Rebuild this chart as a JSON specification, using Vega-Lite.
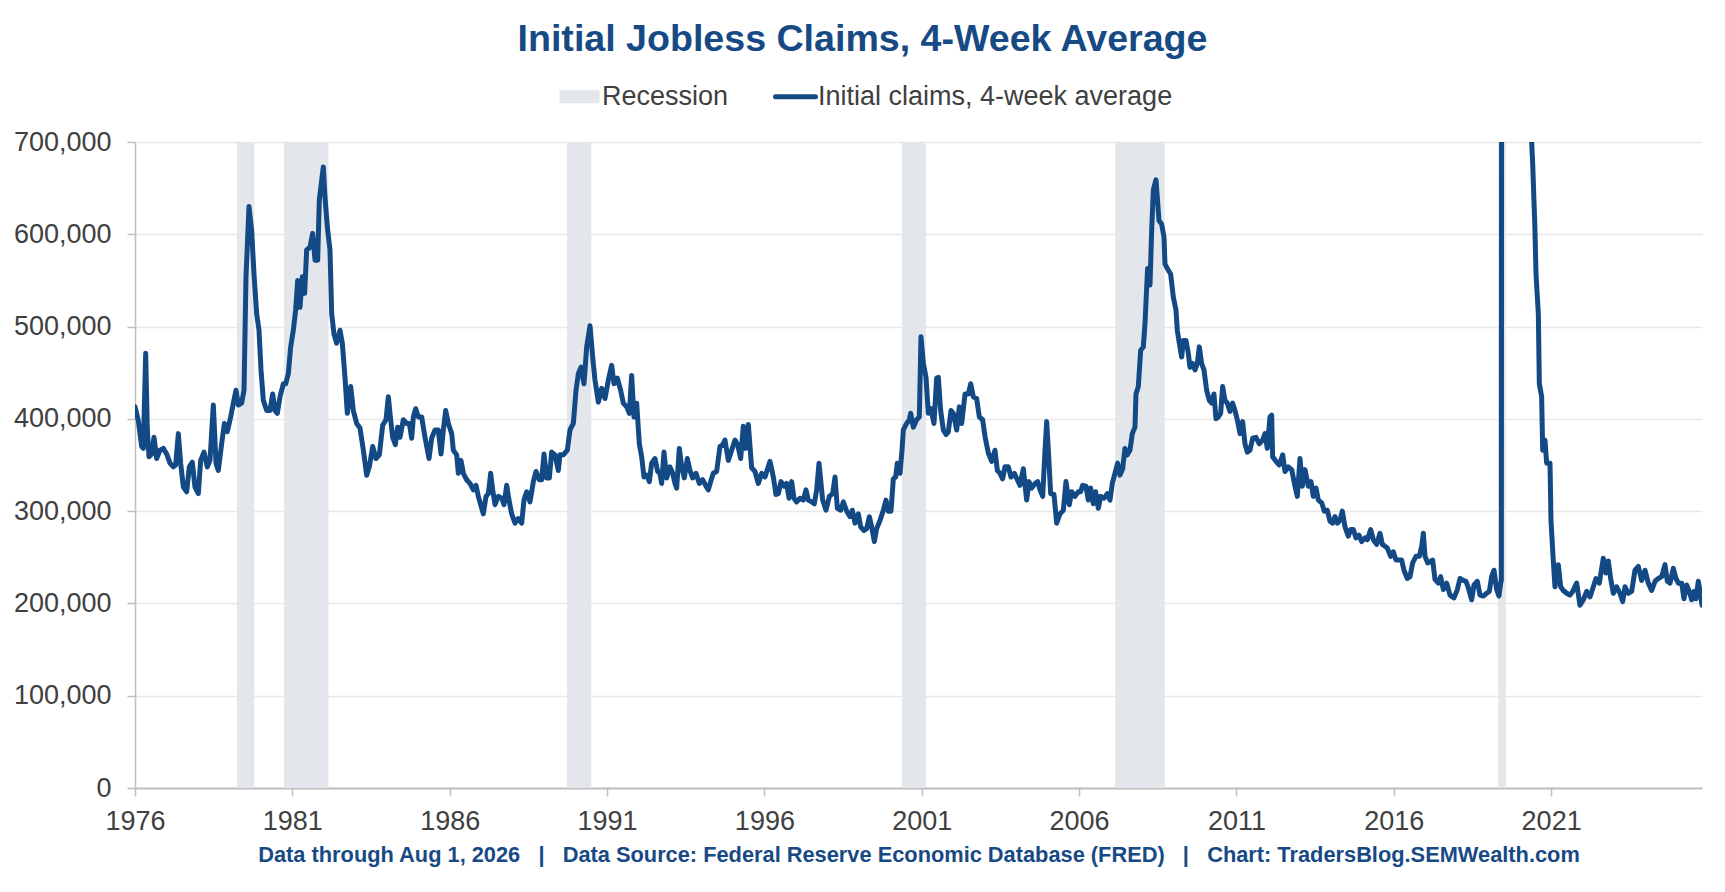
{
  "$schema": "https://vega.github.io/schema/vega-lite/v6.json",
  "width": 1567,
  "height": 646,
  "autosize": {"type": "none"},
  "padding": {"left": 135, "top": 142, "right": 23, "bottom": 104},
  "background": "white",
  "config": {
    "font": "Liberation Sans",
    "view": {"stroke": null},
    "axis": {"labelFont": "Liberation Sans", "titleFont": "Liberation Sans"},
    "legend": {"labelFont": "Liberation Sans"}
  },
  "title": {
    "text": "Initial Jobless Claims, 4-Week Average",
    "anchor": "middle",
    "frame": "group",
    "dx": -56,
    "offset": 24,
    "fontSize": 37.6,
    "fontWeight": "bold",
    "font": "Liberation Sans",
    "color": "#174A85"
  },
  "datasets": {
    "recessions": [
      {"s": 1979.99, "e": 1980.54},
      {"s": 1981.49, "e": 1982.9},
      {"s": 1990.48, "e": 1991.25},
      {"s": 2001.12, "e": 2001.88},
      {"s": 2007.9, "e": 2009.47},
      {"s": 2020.07, "e": 2020.31}
    ],
    "claims": [
      {"t": 1976.75, "v": 413000}, {"t": 1976.856, "v": 398000}, {"t": 1976.962, "v": 370000}, {"t": 1977.015, "v": 368000},
      {"t": 1977.089, "v": 471000}, {"t": 1977.142, "v": 388000}, {"t": 1977.195, "v": 359000}, {"t": 1977.28, "v": 362000},
      {"t": 1977.354, "v": 380000}, {"t": 1977.438, "v": 357000}, {"t": 1977.544, "v": 366000}, {"t": 1977.65, "v": 368000},
      {"t": 1977.756, "v": 362000}, {"t": 1977.862, "v": 352000}, {"t": 1977.968, "v": 348000}, {"t": 1978.042, "v": 350000},
      {"t": 1978.127, "v": 384000}, {"t": 1978.201, "v": 352000}, {"t": 1978.286, "v": 326000}, {"t": 1978.392, "v": 321000},
      {"t": 1978.476, "v": 348000}, {"t": 1978.572, "v": 353000}, {"t": 1978.656, "v": 326000}, {"t": 1978.762, "v": 319000},
      {"t": 1978.837, "v": 355000}, {"t": 1978.943, "v": 364000}, {"t": 1979.048, "v": 348000}, {"t": 1979.133, "v": 355000},
      {"t": 1979.239, "v": 415000}, {"t": 1979.324, "v": 352000}, {"t": 1979.398, "v": 344000}, {"t": 1979.504, "v": 373000},
      {"t": 1979.589, "v": 395000}, {"t": 1979.684, "v": 386000}, {"t": 1979.79, "v": 402000}, {"t": 1979.875, "v": 417000},
      {"t": 1979.959, "v": 431000}, {"t": 1980.033, "v": 415000}, {"t": 1980.139, "v": 417000}, {"t": 1980.214, "v": 431000},
      {"t": 1980.277, "v": 554000}, {"t": 1980.372, "v": 630000}, {"t": 1980.457, "v": 604000}, {"t": 1980.531, "v": 557000},
      {"t": 1980.616, "v": 514000}, {"t": 1980.69, "v": 496000}, {"t": 1980.754, "v": 453000}, {"t": 1980.828, "v": 420000},
      {"t": 1980.934, "v": 409000}, {"t": 1981.04, "v": 409000}, {"t": 1981.125, "v": 427000}, {"t": 1981.199, "v": 409000},
      {"t": 1981.273, "v": 406000}, {"t": 1981.358, "v": 424000}, {"t": 1981.464, "v": 438000}, {"t": 1981.538, "v": 438000},
      {"t": 1981.622, "v": 449000}, {"t": 1981.697, "v": 478000}, {"t": 1981.781, "v": 496000}, {"t": 1981.855, "v": 518000},
      {"t": 1981.919, "v": 550000}, {"t": 1981.993, "v": 521000}, {"t": 1982.067, "v": 554000}, {"t": 1982.141, "v": 536000},
      {"t": 1982.205, "v": 583000}, {"t": 1982.311, "v": 586000}, {"t": 1982.395, "v": 601000}, {"t": 1982.47, "v": 572000},
      {"t": 1982.554, "v": 572000}, {"t": 1982.607, "v": 637000}, {"t": 1982.681, "v": 658000}, {"t": 1982.734, "v": 673000},
      {"t": 1982.788, "v": 640000}, {"t": 1982.862, "v": 608000}, {"t": 1982.946, "v": 583000}, {"t": 1983.0, "v": 514000},
      {"t": 1983.073, "v": 492000}, {"t": 1983.158, "v": 482000}, {"t": 1983.264, "v": 496000}, {"t": 1983.338, "v": 482000},
      {"t": 1983.423, "v": 445000}, {"t": 1983.497, "v": 406000}, {"t": 1983.603, "v": 435000}, {"t": 1983.688, "v": 409000},
      {"t": 1983.794, "v": 395000}, {"t": 1983.9, "v": 390000}, {"t": 1984.006, "v": 366000}, {"t": 1984.112, "v": 339000},
      {"t": 1984.197, "v": 348000}, {"t": 1984.302, "v": 370000}, {"t": 1984.408, "v": 357000}, {"t": 1984.514, "v": 361000},
      {"t": 1984.62, "v": 393000}, {"t": 1984.726, "v": 399000}, {"t": 1984.8, "v": 424000}, {"t": 1984.874, "v": 399000},
      {"t": 1984.938, "v": 380000}, {"t": 1985.023, "v": 372000}, {"t": 1985.097, "v": 391000}, {"t": 1985.171, "v": 380000},
      {"t": 1985.277, "v": 399000}, {"t": 1985.383, "v": 395000}, {"t": 1985.468, "v": 395000}, {"t": 1985.542, "v": 379000},
      {"t": 1985.595, "v": 402000}, {"t": 1985.669, "v": 411000}, {"t": 1985.754, "v": 402000}, {"t": 1985.86, "v": 402000},
      {"t": 1985.965, "v": 380000}, {"t": 1986.093, "v": 357000}, {"t": 1986.177, "v": 379000}, {"t": 1986.283, "v": 388000},
      {"t": 1986.389, "v": 388000}, {"t": 1986.474, "v": 362000}, {"t": 1986.548, "v": 388000}, {"t": 1986.622, "v": 409000},
      {"t": 1986.707, "v": 395000}, {"t": 1986.813, "v": 384000}, {"t": 1986.866, "v": 366000}, {"t": 1986.972, "v": 361000},
      {"t": 1987.025, "v": 341000}, {"t": 1987.109, "v": 355000}, {"t": 1987.184, "v": 341000}, {"t": 1987.289, "v": 334000},
      {"t": 1987.395, "v": 330000}, {"t": 1987.501, "v": 323000}, {"t": 1987.586, "v": 328000}, {"t": 1987.66, "v": 316000},
      {"t": 1987.734, "v": 307000}, {"t": 1987.819, "v": 297000}, {"t": 1987.904, "v": 316000}, {"t": 1987.978, "v": 319000},
      {"t": 1988.052, "v": 341000}, {"t": 1988.116, "v": 323000}, {"t": 1988.19, "v": 307000}, {"t": 1988.296, "v": 316000},
      {"t": 1988.402, "v": 314000}, {"t": 1988.476, "v": 307000}, {"t": 1988.561, "v": 328000}, {"t": 1988.635, "v": 312000},
      {"t": 1988.719, "v": 297000}, {"t": 1988.825, "v": 287000}, {"t": 1988.931, "v": 292000}, {"t": 1989.037, "v": 287000},
      {"t": 1989.111, "v": 312000}, {"t": 1989.196, "v": 321000}, {"t": 1989.302, "v": 310000}, {"t": 1989.408, "v": 332000},
      {"t": 1989.493, "v": 343000}, {"t": 1989.599, "v": 334000}, {"t": 1989.673, "v": 334000}, {"t": 1989.747, "v": 362000},
      {"t": 1989.832, "v": 336000}, {"t": 1989.916, "v": 336000}, {"t": 1989.991, "v": 364000}, {"t": 1990.096, "v": 361000},
      {"t": 1990.202, "v": 344000}, {"t": 1990.255, "v": 361000}, {"t": 1990.361, "v": 361000}, {"t": 1990.488, "v": 366000},
      {"t": 1990.573, "v": 388000}, {"t": 1990.679, "v": 395000}, {"t": 1990.764, "v": 431000}, {"t": 1990.838, "v": 449000},
      {"t": 1990.923, "v": 456000}, {"t": 1991.018, "v": 438000}, {"t": 1991.103, "v": 478000}, {"t": 1991.209, "v": 501000},
      {"t": 1991.293, "v": 467000}, {"t": 1991.367, "v": 442000}, {"t": 1991.473, "v": 418000}, {"t": 1991.579, "v": 433000},
      {"t": 1991.685, "v": 422000}, {"t": 1991.791, "v": 442000}, {"t": 1991.897, "v": 458000}, {"t": 1991.971, "v": 438000},
      {"t": 1992.077, "v": 444000}, {"t": 1992.182, "v": 431000}, {"t": 1992.267, "v": 417000}, {"t": 1992.373, "v": 413000},
      {"t": 1992.458, "v": 406000}, {"t": 1992.532, "v": 447000}, {"t": 1992.606, "v": 402000}, {"t": 1992.691, "v": 417000},
      {"t": 1992.776, "v": 373000}, {"t": 1992.85, "v": 359000}, {"t": 1992.924, "v": 337000}, {"t": 1993.009, "v": 339000},
      {"t": 1993.093, "v": 332000}, {"t": 1993.168, "v": 352000}, {"t": 1993.273, "v": 357000}, {"t": 1993.358, "v": 343000},
      {"t": 1993.432, "v": 341000}, {"t": 1993.485, "v": 330000}, {"t": 1993.56, "v": 364000}, {"t": 1993.644, "v": 336000},
      {"t": 1993.75, "v": 348000}, {"t": 1993.835, "v": 341000}, {"t": 1993.909, "v": 330000}, {"t": 1993.962, "v": 325000},
      {"t": 1994.047, "v": 368000}, {"t": 1994.121, "v": 348000}, {"t": 1994.206, "v": 336000}, {"t": 1994.301, "v": 357000},
      {"t": 1994.386, "v": 344000}, {"t": 1994.47, "v": 336000}, {"t": 1994.576, "v": 341000}, {"t": 1994.682, "v": 330000},
      {"t": 1994.788, "v": 334000}, {"t": 1994.894, "v": 327000}, {"t": 1994.968, "v": 323000}, {"t": 1995.042, "v": 332000},
      {"t": 1995.127, "v": 341000}, {"t": 1995.233, "v": 343000}, {"t": 1995.339, "v": 370000}, {"t": 1995.424, "v": 372000},
      {"t": 1995.498, "v": 377000}, {"t": 1995.604, "v": 355000}, {"t": 1995.71, "v": 366000}, {"t": 1995.816, "v": 377000},
      {"t": 1995.9, "v": 372000}, {"t": 1995.996, "v": 357000}, {"t": 1996.08, "v": 392000}, {"t": 1996.155, "v": 368000},
      {"t": 1996.239, "v": 394000}, {"t": 1996.345, "v": 347000}, {"t": 1996.451, "v": 343000}, {"t": 1996.557, "v": 330000},
      {"t": 1996.663, "v": 341000}, {"t": 1996.769, "v": 337000}, {"t": 1996.928, "v": 354000}, {"t": 1997.034, "v": 337000},
      {"t": 1997.118, "v": 318000}, {"t": 1997.193, "v": 319000}, {"t": 1997.277, "v": 332000}, {"t": 1997.383, "v": 327000},
      {"t": 1997.457, "v": 330000}, {"t": 1997.532, "v": 314000}, {"t": 1997.616, "v": 332000}, {"t": 1997.69, "v": 314000},
      {"t": 1997.775, "v": 310000}, {"t": 1997.881, "v": 314000}, {"t": 1997.987, "v": 312000}, {"t": 1998.072, "v": 323000},
      {"t": 1998.146, "v": 312000}, {"t": 1998.252, "v": 310000}, {"t": 1998.337, "v": 308000}, {"t": 1998.411, "v": 323000},
      {"t": 1998.485, "v": 352000}, {"t": 1998.602, "v": 312000}, {"t": 1998.708, "v": 301000}, {"t": 1998.814, "v": 316000},
      {"t": 1998.92, "v": 319000}, {"t": 1998.994, "v": 337000}, {"t": 1999.068, "v": 303000}, {"t": 1999.174, "v": 301000},
      {"t": 1999.258, "v": 310000}, {"t": 1999.364, "v": 300000}, {"t": 1999.47, "v": 294000}, {"t": 1999.544, "v": 301000},
      {"t": 1999.629, "v": 287000}, {"t": 1999.735, "v": 297000}, {"t": 1999.809, "v": 283000}, {"t": 1999.915, "v": 279000},
      {"t": 2000.0, "v": 281000}, {"t": 2000.085, "v": 294000}, {"t": 2000.159, "v": 283000}, {"t": 2000.244, "v": 267000},
      {"t": 2000.318, "v": 281000}, {"t": 2000.424, "v": 290000}, {"t": 2000.53, "v": 301000}, {"t": 2000.614, "v": 312000},
      {"t": 2000.688, "v": 300000}, {"t": 2000.773, "v": 300000}, {"t": 2000.847, "v": 335000}, {"t": 2000.921, "v": 337000},
      {"t": 2000.974, "v": 352000}, {"t": 2001.059, "v": 341000}, {"t": 2001.123, "v": 366000}, {"t": 2001.165, "v": 388000},
      {"t": 2001.271, "v": 395000}, {"t": 2001.356, "v": 399000}, {"t": 2001.398, "v": 406000}, {"t": 2001.483, "v": 391000},
      {"t": 2001.589, "v": 399000}, {"t": 2001.673, "v": 402000}, {"t": 2001.726, "v": 489000}, {"t": 2001.801, "v": 460000},
      {"t": 2001.885, "v": 445000}, {"t": 2001.959, "v": 406000}, {"t": 2002.044, "v": 411000}, {"t": 2002.139, "v": 395000},
      {"t": 2002.224, "v": 444000}, {"t": 2002.277, "v": 445000}, {"t": 2002.351, "v": 409000}, {"t": 2002.436, "v": 388000},
      {"t": 2002.521, "v": 383000}, {"t": 2002.595, "v": 386000}, {"t": 2002.68, "v": 409000}, {"t": 2002.754, "v": 406000},
      {"t": 2002.86, "v": 388000}, {"t": 2002.945, "v": 413000}, {"t": 2003.019, "v": 395000}, {"t": 2003.125, "v": 427000},
      {"t": 2003.231, "v": 427000}, {"t": 2003.305, "v": 438000}, {"t": 2003.389, "v": 424000}, {"t": 2003.495, "v": 422000},
      {"t": 2003.58, "v": 402000}, {"t": 2003.686, "v": 399000}, {"t": 2003.76, "v": 381000}, {"t": 2003.866, "v": 363000},
      {"t": 2003.972, "v": 354000}, {"t": 2004.078, "v": 366000}, {"t": 2004.152, "v": 344000}, {"t": 2004.237, "v": 341000},
      {"t": 2004.321, "v": 335000}, {"t": 2004.396, "v": 348000}, {"t": 2004.501, "v": 348000}, {"t": 2004.586, "v": 337000},
      {"t": 2004.692, "v": 341000}, {"t": 2004.788, "v": 334000}, {"t": 2004.872, "v": 328000}, {"t": 2004.978, "v": 346000},
      {"t": 2005.084, "v": 312000}, {"t": 2005.158, "v": 332000}, {"t": 2005.243, "v": 325000}, {"t": 2005.349, "v": 330000},
      {"t": 2005.434, "v": 332000}, {"t": 2005.508, "v": 323000}, {"t": 2005.593, "v": 316000}, {"t": 2005.667, "v": 366000},
      {"t": 2005.72, "v": 397000}, {"t": 2005.773, "v": 366000}, {"t": 2005.847, "v": 319000}, {"t": 2005.953, "v": 318000},
      {"t": 2006.037, "v": 287000}, {"t": 2006.143, "v": 297000}, {"t": 2006.249, "v": 301000}, {"t": 2006.333, "v": 332000},
      {"t": 2006.439, "v": 307000}, {"t": 2006.513, "v": 321000}, {"t": 2006.619, "v": 316000}, {"t": 2006.725, "v": 321000},
      {"t": 2006.799, "v": 321000}, {"t": 2006.863, "v": 328000}, {"t": 2006.969, "v": 327000}, {"t": 2007.043, "v": 312000},
      {"t": 2007.117, "v": 325000}, {"t": 2007.202, "v": 308000}, {"t": 2007.276, "v": 321000}, {"t": 2007.361, "v": 303000},
      {"t": 2007.435, "v": 316000}, {"t": 2007.541, "v": 314000}, {"t": 2007.647, "v": 319000}, {"t": 2007.732, "v": 312000},
      {"t": 2007.806, "v": 330000}, {"t": 2007.89, "v": 341000}, {"t": 2007.975, "v": 352000}, {"t": 2008.049, "v": 339000},
      {"t": 2008.134, "v": 346000}, {"t": 2008.208, "v": 368000}, {"t": 2008.282, "v": 361000}, {"t": 2008.367, "v": 366000},
      {"t": 2008.441, "v": 384000}, {"t": 2008.526, "v": 391000}, {"t": 2008.558, "v": 427000}, {"t": 2008.632, "v": 435000},
      {"t": 2008.706, "v": 474000}, {"t": 2008.791, "v": 478000}, {"t": 2008.844, "v": 503000}, {"t": 2008.897, "v": 542000},
      {"t": 2008.928, "v": 563000}, {"t": 2009.003, "v": 545000}, {"t": 2009.056, "v": 604000}, {"t": 2009.109, "v": 648000},
      {"t": 2009.193, "v": 659000}, {"t": 2009.236, "v": 640000}, {"t": 2009.289, "v": 615000}, {"t": 2009.373, "v": 611000},
      {"t": 2009.448, "v": 597000}, {"t": 2009.479, "v": 568000}, {"t": 2009.585, "v": 561000}, {"t": 2009.659, "v": 557000},
      {"t": 2009.744, "v": 532000}, {"t": 2009.829, "v": 518000}, {"t": 2009.871, "v": 496000}, {"t": 2009.935, "v": 482000},
      {"t": 2010.009, "v": 467000}, {"t": 2010.062, "v": 485000}, {"t": 2010.147, "v": 485000}, {"t": 2010.221, "v": 471000},
      {"t": 2010.274, "v": 456000}, {"t": 2010.358, "v": 460000}, {"t": 2010.433, "v": 453000}, {"t": 2010.507, "v": 460000},
      {"t": 2010.57, "v": 478000}, {"t": 2010.644, "v": 460000}, {"t": 2010.718, "v": 453000}, {"t": 2010.803, "v": 431000},
      {"t": 2010.888, "v": 420000}, {"t": 2010.962, "v": 417000}, {"t": 2011.036, "v": 427000}, {"t": 2011.1, "v": 400000},
      {"t": 2011.174, "v": 402000}, {"t": 2011.248, "v": 406000}, {"t": 2011.312, "v": 435000}, {"t": 2011.386, "v": 420000},
      {"t": 2011.46, "v": 417000}, {"t": 2011.545, "v": 408000}, {"t": 2011.629, "v": 417000}, {"t": 2011.704, "v": 409000},
      {"t": 2011.778, "v": 399000}, {"t": 2011.863, "v": 384000}, {"t": 2011.947, "v": 397000}, {"t": 2012.021, "v": 373000},
      {"t": 2012.096, "v": 364000}, {"t": 2012.18, "v": 366000}, {"t": 2012.265, "v": 379000}, {"t": 2012.371, "v": 380000},
      {"t": 2012.477, "v": 373000}, {"t": 2012.583, "v": 377000}, {"t": 2012.657, "v": 384000}, {"t": 2012.731, "v": 368000},
      {"t": 2012.816, "v": 402000}, {"t": 2012.869, "v": 404000}, {"t": 2012.901, "v": 359000}, {"t": 2013.006, "v": 354000},
      {"t": 2013.112, "v": 350000}, {"t": 2013.219, "v": 361000}, {"t": 2013.293, "v": 343000}, {"t": 2013.399, "v": 348000},
      {"t": 2013.505, "v": 345000}, {"t": 2013.611, "v": 327000}, {"t": 2013.685, "v": 316000}, {"t": 2013.77, "v": 357000},
      {"t": 2013.844, "v": 327000}, {"t": 2013.928, "v": 345000}, {"t": 2014.034, "v": 327000}, {"t": 2014.119, "v": 332000},
      {"t": 2014.193, "v": 316000}, {"t": 2014.278, "v": 325000}, {"t": 2014.352, "v": 312000}, {"t": 2014.458, "v": 309000},
      {"t": 2014.543, "v": 300000}, {"t": 2014.638, "v": 301000}, {"t": 2014.723, "v": 289000}, {"t": 2014.808, "v": 287000},
      {"t": 2014.882, "v": 294000}, {"t": 2014.956, "v": 287000}, {"t": 2015.041, "v": 290000}, {"t": 2015.115, "v": 300000},
      {"t": 2015.199, "v": 283000}, {"t": 2015.305, "v": 273000}, {"t": 2015.38, "v": 280000}, {"t": 2015.464, "v": 280000},
      {"t": 2015.549, "v": 271000}, {"t": 2015.644, "v": 274000}, {"t": 2015.729, "v": 267000}, {"t": 2015.835, "v": 271000},
      {"t": 2015.909, "v": 269000}, {"t": 2016.015, "v": 280000}, {"t": 2016.1, "v": 269000}, {"t": 2016.206, "v": 264000},
      {"t": 2016.312, "v": 276000}, {"t": 2016.386, "v": 264000}, {"t": 2016.471, "v": 262000}, {"t": 2016.545, "v": 260000},
      {"t": 2016.651, "v": 251000}, {"t": 2016.735, "v": 256000}, {"t": 2016.82, "v": 247000}, {"t": 2016.915, "v": 247000},
      {"t": 2017.0, "v": 247000}, {"t": 2017.074, "v": 236000}, {"t": 2017.18, "v": 227000}, {"t": 2017.265, "v": 229000},
      {"t": 2017.35, "v": 244000}, {"t": 2017.456, "v": 251000}, {"t": 2017.561, "v": 251000}, {"t": 2017.636, "v": 262000},
      {"t": 2017.689, "v": 276000}, {"t": 2017.742, "v": 251000}, {"t": 2017.826, "v": 244000}, {"t": 2017.9, "v": 245000},
      {"t": 2017.985, "v": 247000}, {"t": 2018.059, "v": 226000}, {"t": 2018.165, "v": 222000}, {"t": 2018.24, "v": 229000},
      {"t": 2018.324, "v": 215000}, {"t": 2018.43, "v": 222000}, {"t": 2018.536, "v": 209000}, {"t": 2018.663, "v": 206000},
      {"t": 2018.769, "v": 215000}, {"t": 2018.854, "v": 227000}, {"t": 2018.96, "v": 225000}, {"t": 2019.044, "v": 224000},
      {"t": 2019.119, "v": 217000}, {"t": 2019.225, "v": 204000}, {"t": 2019.299, "v": 220000}, {"t": 2019.405, "v": 224000},
      {"t": 2019.49, "v": 209000}, {"t": 2019.596, "v": 208000}, {"t": 2019.701, "v": 211000}, {"t": 2019.786, "v": 213000},
      {"t": 2019.86, "v": 229000}, {"t": 2019.934, "v": 236000}, {"t": 2020.019, "v": 215000}, {"t": 2020.093, "v": 208000},
      {"t": 2020.146, "v": 222000}, {"t": 2020.168, "v": 225000}, {"t": 2020.19, "v": 1800000}, {"t": 2020.22, "v": 3600000},
      {"t": 2020.27, "v": 5300000}, {"t": 2020.4, "v": 2500000}, {"t": 2020.6, "v": 1400000}, {"t": 2020.85, "v": 900000},
      {"t": 2021.131, "v": 700000}, {"t": 2021.163, "v": 677000}, {"t": 2021.237, "v": 604000}, {"t": 2021.269, "v": 557000},
      {"t": 2021.343, "v": 514000}, {"t": 2021.375, "v": 438000}, {"t": 2021.449, "v": 424000}, {"t": 2021.481, "v": 366000},
      {"t": 2021.555, "v": 377000}, {"t": 2021.608, "v": 352000}, {"t": 2021.714, "v": 352000}, {"t": 2021.745, "v": 290000},
      {"t": 2021.819, "v": 246000}, {"t": 2021.872, "v": 218000}, {"t": 2021.978, "v": 242000}, {"t": 2022.053, "v": 218000},
      {"t": 2022.137, "v": 214000}, {"t": 2022.243, "v": 211000}, {"t": 2022.349, "v": 209000}, {"t": 2022.434, "v": 213000},
      {"t": 2022.561, "v": 222000}, {"t": 2022.667, "v": 198000}, {"t": 2022.773, "v": 204000}, {"t": 2022.879, "v": 213000},
      {"t": 2022.985, "v": 207000}, {"t": 2023.091, "v": 218000}, {"t": 2023.175, "v": 227000}, {"t": 2023.281, "v": 222000},
      {"t": 2023.408, "v": 249000}, {"t": 2023.493, "v": 233000}, {"t": 2023.567, "v": 246000}, {"t": 2023.641, "v": 227000},
      {"t": 2023.726, "v": 211000}, {"t": 2023.832, "v": 218000}, {"t": 2023.938, "v": 211000}, {"t": 2024.023, "v": 202000},
      {"t": 2024.097, "v": 218000}, {"t": 2024.203, "v": 211000}, {"t": 2024.309, "v": 213000}, {"t": 2024.415, "v": 236000},
      {"t": 2024.521, "v": 240000}, {"t": 2024.626, "v": 225000}, {"t": 2024.732, "v": 236000}, {"t": 2024.838, "v": 222000},
      {"t": 2024.944, "v": 214000}, {"t": 2025.05, "v": 224000}, {"t": 2025.156, "v": 227000}, {"t": 2025.262, "v": 229000},
      {"t": 2025.368, "v": 242000}, {"t": 2025.442, "v": 224000}, {"t": 2025.527, "v": 222000}, {"t": 2025.633, "v": 238000},
      {"t": 2025.717, "v": 227000}, {"t": 2025.792, "v": 222000}, {"t": 2025.898, "v": 222000}, {"t": 2025.972, "v": 205000},
      {"t": 2026.056, "v": 220000}, {"t": 2026.141, "v": 213000}, {"t": 2026.215, "v": 204000}, {"t": 2026.289, "v": 213000},
      {"t": 2026.353, "v": 205000}, {"t": 2026.427, "v": 224000}, {"t": 2026.501, "v": 209000}, {"t": 2026.544, "v": 198000}
    ]
  },
  "layer": [
    {
      "data": {"name": "recessions"},
      "mark": {"type": "rect"},
      "encoding": {
        "x": {
          "field": "s",
          "type": "quantitative",
          "scale": {"domain": [1976.75, 2026.544], "nice": false, "zero": false},
          "axis": {
            "values": [1976.75, 1981.75, 1986.75, 1991.75, 1996.75, 2001.75, 2006.75, 2011.75, 2016.75, 2021.75],
            "labelExpr": "'' + floor(datum.value)",
            "grid": false,
            "domainColor": "#BFBFBF",
            "domainWidth": 2,
            "tickColor": "#BFBFBF",
            "tickWidth": 1.5,
            "tickSize": 8,
            "labelFontSize": 27,
            "labelColor": "#404040",
            "labelPadding": 12,
            "labelFlush": false,
            "labelOverlap": false,
            "title": "Data through Aug 1, 2026\u00a0\u00a0\u00a0|\u00a0\u00a0\u00a0Data Source: Federal Reserve Economic Database (FRED)\u00a0\u00a0\u00a0|\u00a0\u00a0\u00a0Chart: TradersBlog.SEMWealth.com",
            "titleFontSize": 21.8,
            "titleFontWeight": "bold",
            "titleColor": "#174A85",
            "titlePadding": 10
          }
        },
        "x2": {"field": "e"},
        "color": {
          "datum": "Recession",
          "type": "nominal",
          "scale": {"domain": ["Recession", "Initial claims, 4-week average"], "range": ["#E3E6EA", "#134A86"]},
          "legend": {
            "orient": "none",
            "legendX": 431,
            "legendY": -59,
            "direction": "horizontal",
            "title": null,
            "labelFontSize": 27,
            "labelColor": "#404040",
            "labelLimit": 600,
            "labelOffset": 9,
            "columnPadding": 36,
            "symbolSize": 1600,
            "encode": {
              "symbols": {
                "update": {
                  "shape": {"signal": "datum.value === 'Recession' ? 'M-1,-0.32H1V0.32H-1Z' : 'stroke'"},
                  "fill": {"signal": "datum.value === 'Recession' ? '#E3E6EA' : 'transparent'"},
                  "stroke": {"signal": "datum.value === 'Recession' ? 'transparent' : '#134A86'"},
                  "strokeWidth": {"signal": "datum.value === 'Recession' ? 0 : 5"},
                  "strokeCap": {"value": "round"},
                  "opacity": {"value": 1}
                }
              }
            }
          }
        }
      }
    },
    {
      "data": {"name": "claims"},
      "mark": {"type": "line", "clip": true, "strokeWidth": 5, "strokeJoin": "round", "strokeCap": "round"},
      "encoding": {
        "x": {"field": "t", "type": "quantitative"},
        "y": {
          "field": "v",
          "type": "quantitative",
          "scale": {"domain": [0, 700000], "nice": false},
          "axis": {
            "values": [0, 100000, 200000, 300000, 400000, 500000, 600000, 700000],
            "format": ",d",
            "title": null,
            "grid": true,
            "gridColor": "#E8E8E8",
            "gridWidth": 1.5,
            "domainColor": "#BFBFBF",
            "domainWidth": 1.5,
            "tickColor": "#BFBFBF",
            "tickWidth": 1.5,
            "tickSize": 8,
            "labelFontSize": 27,
            "labelColor": "#404040",
            "labelPadding": 16
          }
        },
        "color": {"datum": "Initial claims, 4-week average", "type": "nominal"}
      }
    }
  ]
}
